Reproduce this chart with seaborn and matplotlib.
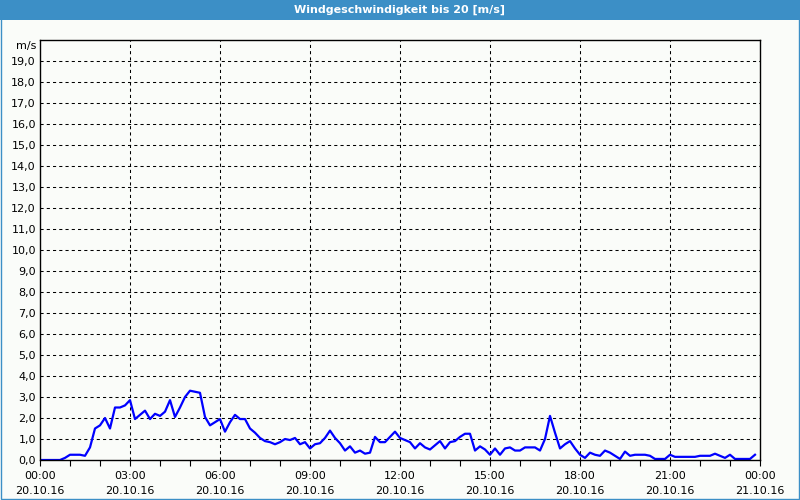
import numpy as np
import pandas as pd
import matplotlib
matplotlib.use("Agg")
import matplotlib.pyplot as plt
import seaborn as sns

# wind speed, 10-minute values, 20.10.16 00:00 .. 23:50
speed = [
    0, 0, 0, 0, 0, 0.1, 0.25, 0.25, 0.25, 0.2,
    0.6, 1.5, 1.65, 2.0, 1.5, 2.5, 2.5, 2.6, 2.85, 1.95,
    2.15, 2.35, 1.95, 2.2, 2.1, 2.3, 2.85, 2.05, 2.5, 3.0,
    3.3, 3.25, 3.2, 2.05, 1.65, 1.8, 1.95, 1.35, 1.8, 2.15,
    1.95, 1.95, 1.5, 1.3, 1.05, 0.9, 0.85, 0.75, 0.85, 1.0,
    0.95, 1.05, 0.75, 0.85, 0.55, 0.75, 0.8, 1.05, 1.4, 1.05,
    0.8, 0.45, 0.65, 0.35, 0.45, 0.3, 0.35, 1.1, 0.85, 0.85,
    1.1, 1.35, 1.05, 0.95, 0.85, 0.55, 0.8, 0.6, 0.5, 0.7,
    0.9, 0.55, 0.85, 0.9, 1.1, 1.25, 1.25, 0.45, 0.65, 0.5,
    0.25, 0.55, 0.25, 0.55, 0.6, 0.45, 0.45, 0.6, 0.6, 0.6,
    0.45, 1.0, 2.1, 1.3, 0.55, 0.75, 0.9, 0.55, 0.25, 0.1,
    0.35, 0.25, 0.2, 0.45, 0.35, 0.2, 0.05, 0.4, 0.2, 0.25,
    0.25, 0.25, 0.2, 0.05, 0.05, 0.05, 0.25, 0.15, 0.15, 0.15,
    0.15, 0.15, 0.2, 0.2, 0.2, 0.3, 0.2, 0.1, 0.25, 0.05,
    0.05, 0.05, 0.05, 0.25,
]
hours = [i / 6 for i in range(len(speed))]
x_ticks = [0, 3, 6, 9, 12, 15, 18, 21, 24]
x_labels = ["00:00\n20.10.16", "03:00\n20.10.16", "06:00\n20.10.16",
            "09:00\n20.10.16", "12:00\n20.10.16", "15:00\n20.10.16",
            "18:00\n20.10.16", "21:00\n20.10.16", "00:00\n21.10.16"]
y_ticks = list(range(0, 20))
y_labels = [f"{v},0" for v in y_ticks]
title = "Windgeschwindigkeit bis 20 [m/s]"
unit = "m/s"

df = pd.DataFrame({"h": hours, "v": speed})

bg = "#fafcf9"
blue_bar = "#3c8fc6"

fig = plt.figure(figsize=(8, 5), dpi=100, facecolor=bg)
ax = fig.add_axes([40 / 800, 40 / 500, 720 / 800, 420 / 500])
ax.set_facecolor(bg)

sns.lineplot(data=df, x="h", y="v", ax=ax, color="#0000ff", linewidth=1.6)

ax.set_xlim(0, 24)
ax.set_ylim(0, 20)
for h in x_ticks[1:-1]:
    ax.axvline(h, color="black", linestyle=(0, (3, 3)), linewidth=0.75, zorder=0)
for v in y_ticks[1:]:
    ax.axhline(v, color="black", linestyle=(0, (3, 3)), linewidth=0.75, zorder=0)

ax.set_xticks(x_ticks)
ax.set_xticklabels(x_labels, fontsize=8, linespacing=1.55)
ax.set_xticks(range(0, 25), minor=True)
ax.set_yticks(y_ticks)
ax.set_yticklabels(y_labels, fontsize=8)
ax.tick_params(axis="x", which="both", direction="out", length=4, width=0.8, pad=4)
ax.tick_params(axis="y", which="both", length=0, pad=3)
ax.set_xlabel("")
ax.set_ylabel("")
for s in ax.spines.values():
    s.set_color("black")
    s.set_linewidth(1.0)

ax.text(-0.005, 1.0 - 6 / 420, unit, transform=ax.transAxes, ha="right", va="center", fontsize=8)

# title bar
fig.patches.append(plt.Rectangle((0, 1 - 20 / 500), 1, 20 / 500, transform=fig.transFigure,
                                 facecolor=blue_bar, edgecolor="none", zorder=0))
fig.text(0.5, 1 - 10 / 500, title, ha="center", va="center", color="white",
         fontsize=8, fontweight="bold")
# window border
fig.patches.append(plt.Rectangle((0.5 / 800, 1.0 / 500), 798.5 / 800, 498 / 500,
                                 transform=fig.transFigure, facecolor="none",
                                 edgecolor=blue_bar, linewidth=1.0, zorder=5))

fig.savefig("out.png", dpi=100, facecolor=bg)
